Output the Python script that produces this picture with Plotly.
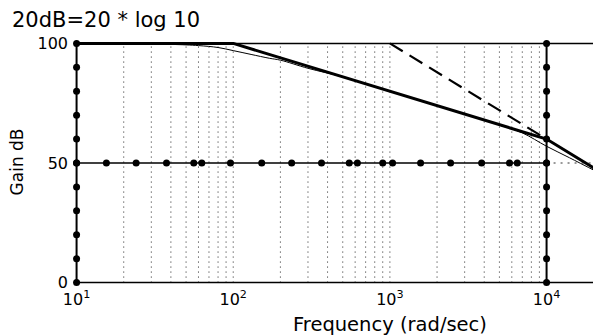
import plotly.graph_objects as go

# ---- data ----
title_text = "20dB=20 * log 10"
x_title = "Frequency (rad/sec)"
y_title = "Gain dB"

x_tick_vals = [10, 100, 1000, 10000]
x_tick_text = ["10<sup>1</sup>", "10<sup>2</sup>", "10<sup>3</sup>", "10<sup>4</sup>"]
y_tick_vals = [0, 50, 100]
y_tick_text = ["0", "50", "100"]

# straight-line (asymptotic) approximation, thick
asym_freq = [10, 100, 10000, 21000]
asym_gain = [100, 100, 60, 47.1]

# actual response, thin
actual_freq = [10, 40, 60, 80, 100, 130, 170, 200, 300, 500, 1000, 2000, 3000,
               5000, 7000, 10000, 14000, 21000]
actual_gain = [100, 99.6, 99.1, 98.3, 97.0, 95.4, 93.8, 93.0, 89.6, 86.0, 80.0,
               74.0, 70.4, 65.9, 62.6, 57.0, 52.2, 46.3]

# dashed line
dash_freq = [1000, 10000]
dash_gain = [100, 60]

# dotted markers along the 50 dB line
mid_marker_freq = [10, 15.5, 24, 37.5, 56, 63, 96, 152, 236, 366, 550, 620, 900,
                   1040, 1570, 2440, 3850, 5800, 6500, 10000]
mid_level = 50

# markers along the vertical lines at 10 and 10^4
vert_marker_gain = [0, 10, 20, 30, 40, 50, 60, 70, 80, 90, 100]
left_freq = 10
right_freq = 10000

# vertical dotted grid lines
grid_freq = [20, 30, 40, 50, 60, 70, 80, 90, 100,
             200, 300, 400, 500, 600, 700, 800, 900, 1000,
             2000, 3000, 4000, 5000, 6000, 7000, 8000, 9000]

x_end = 21000

# ---- figure ----
fig = go.Figure()

gx, gy = [], []
for f in grid_freq:
    gx += [f, f, None]
    gy += [0, 100, None]
fig.add_trace(go.Scatter(x=gx, y=gy, mode="lines",
                         line=dict(color="#222222", width=1, dash="1px,4px"),
                         hoverinfo="skip", showlegend=False))

# dotted continuation of 50 line beyond 10^4
fig.add_trace(go.Scatter(x=[right_freq, x_end], y=[mid_level, mid_level], mode="lines",
                         line=dict(color="#333333", width=1, dash="2px,5px"),
                         showlegend=False))

# top and bottom frame lines
fig.add_trace(go.Scatter(x=[left_freq, x_end], y=[100, 100], mode="lines",
                         line=dict(color="black", width=1.5), showlegend=False))
fig.add_trace(go.Scatter(x=[left_freq, x_end], y=[0, 0], mode="lines",
                         line=dict(color="black", width=1.5), showlegend=False))

# 50 dB line with markers
fig.add_trace(go.Scatter(x=mid_marker_freq, y=[mid_level] * len(mid_marker_freq),
                         mode="lines+markers",
                         line=dict(color="black", width=1.5),
                         marker=dict(color="black", size=7),
                         cliponaxis=False, showlegend=False))

# vertical lines with markers
for vf in [left_freq, right_freq]:
    fig.add_trace(go.Scatter(x=[vf] * len(vert_marker_gain), y=vert_marker_gain,
                             mode="lines+markers",
                             line=dict(color="black", width=2),
                             marker=dict(color="black", size=7),
                             cliponaxis=False, showlegend=False))

# actual curve (thin)
fig.add_trace(go.Scatter(x=actual_freq, y=actual_gain, mode="lines",
                         line=dict(color="black", width=1, shape="spline"),
                         showlegend=False))

# dashed
fig.add_trace(go.Scatter(x=dash_freq, y=dash_gain, mode="lines",
                         line=dict(color="black", width=2.2, dash="15px,8px"),
                         showlegend=False))

# asymptote (thick)
fig.add_trace(go.Scatter(x=asym_freq, y=asym_gain, mode="lines",
                         line=dict(color="black", width=3),
                         showlegend=False))

font_fam = "DejaVu Sans"
fig.update_layout(
    width=601, height=336,
    margin=dict(l=67, r=13, t=34, b=60),
    paper_bgcolor="white", plot_bgcolor="white",
    showlegend=False,
    font=dict(family=font_fam, color="black", size=16),
    xaxis=dict(type="log", range=[0.99, 4.3155], showgrid=False, zeroline=False,
               showline=False, ticks="", tickvals=x_tick_vals, ticktext=x_tick_text,
               tickfont=dict(family=font_fam, size=16, color="black"),
               ticklabelstandoff=4, automargin=False),
    yaxis=dict(range=[-0.6, 100.6], showgrid=False, zeroline=False, showline=False,
               ticks="", tickvals=y_tick_vals, ticktext=y_tick_text,
               tickfont=dict(family=font_fam, size=16, color="black"),
               ticklabelstandoff=6, automargin=False),
    annotations=[
        dict(text=title_text, xref="paper", yref="paper", x=-0.125, y=1.092,
             xanchor="left", yanchor="middle", showarrow=False,
             font=dict(family=font_fam, size=21, color="black")),
        dict(text=x_title, xref="paper", yref="paper", x=0.604, y=-0.168,
             xanchor="center", yanchor="middle", showarrow=False,
             font=dict(family=font_fam, size=19.5, color="black")),
        dict(text=y_title, xref="paper", yref="paper", x=-0.112, y=0.505,
             xanchor="center", yanchor="middle", showarrow=False, textangle=-90,
             font=dict(family=font_fam, size=17, color="black")),
    ],
)

fig.write_html("out.html")
